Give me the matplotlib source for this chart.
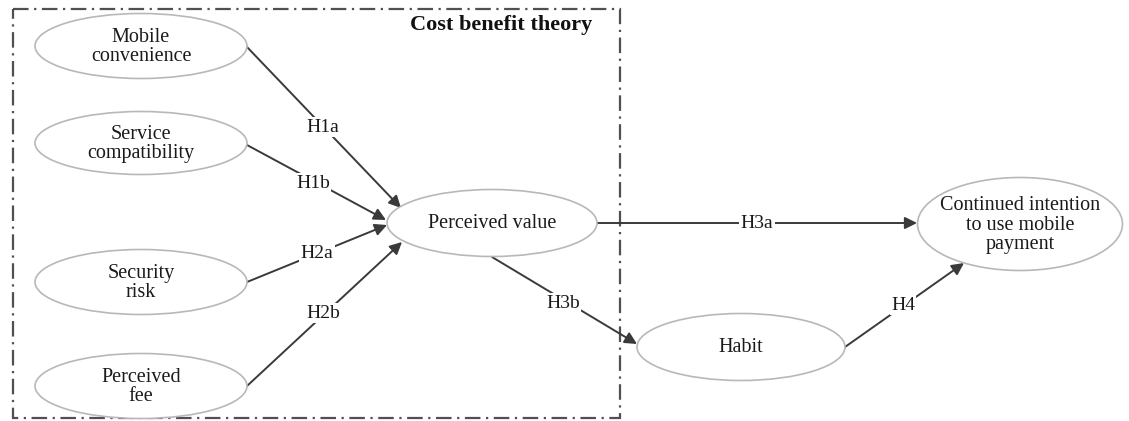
import matplotlib.pyplot as plt
from matplotlib.patches import Ellipse, Rectangle

# Constructs of the research model
nodes = ["Mobile\nconvenience", "Service\ncompatibility", "Security\nrisk",
         "Perceived\nfee", "Perceived value", "Habit",
         "Continued intention\nto use mobile\npayment"]
# Hypothesised paths (source, target, label)
paths = [(0, 4, "H1a"), (1, 4, "H1b"), (2, 4, "H2a"), (3, 4, "H2b"),
         (4, 6, "H3a"), (4, 5, "H3b"), (5, 6, "H4")]
frame_title = "Cost benefit theory"

# layout in pixel space (x, y, width, height)
boxes = [(141, 46, 212, 65), (141, 143, 212, 63), (141, 282, 212, 65),
         (141, 386, 212, 65), (492, 223, 210, 67), (741, 347, 208, 67),
         (1020, 224, 205, 93)]
# start point, end point, label position for each path
arrows = [((247, 47), (401, 208), (323, 127)),
          ((247, 145), (386, 220), (313, 183)),
          ((247, 282), (387, 225), (317, 253)),
          ((247, 386), (402, 242), (323, 313)),
          ((597, 223), (917, 223), (757, 223)),
          ((492, 257), (637, 344), (563, 303)),
          ((845, 347), (964, 263), (903, 305))]

plt.rcParams['font.family'] = ['Liberation Serif', 'DejaVu Serif']

fig = plt.figure(figsize=(11.29, 4.21), dpi=100)
ax = fig.add_axes([0, 0, 1, 1])
ax.set_xlim(0, 1129)
ax.set_ylim(421, 0)
ax.axis('off')

# dashed frame
ax.add_patch(Rectangle((13, 9), 607, 409, fill=False, edgecolor='#505050',
                       lw=1.6, linestyle=(0, (7, 2.5, 1, 2.5))))
ax.text(592, 25, frame_title, ha='right', va='center', fontsize=16,
        fontweight='bold', color='#111111')

for name, (cx, cy, w, h) in zip(nodes, boxes):
    ax.add_patch(Ellipse((cx, cy), w, h, facecolor='white',
                         edgecolor='#b8b8b8', lw=1.2, zorder=3))
    ax.text(cx, cy + 1, name, ha='center', va='center', fontsize=14.5,
            linespacing=1.07, color='#1a1a1a', zorder=4)

for (src, dst, lab), (p0, p1, lp) in zip(paths, arrows):
    ax.annotate('', xy=p1, xytext=p0,
                arrowprops=dict(arrowstyle='-|>', color='#3a3a3a', lw=1.4,
                                mutation_scale=18, shrinkA=0, shrinkB=0),
                zorder=2)
    ax.text(lp[0], lp[1], lab, ha='center', va='center', fontsize=14,
            color='#1a1a1a', zorder=5,
            bbox=dict(facecolor='white', edgecolor='none', pad=1))

fig.savefig('out.png', dpi=100)
